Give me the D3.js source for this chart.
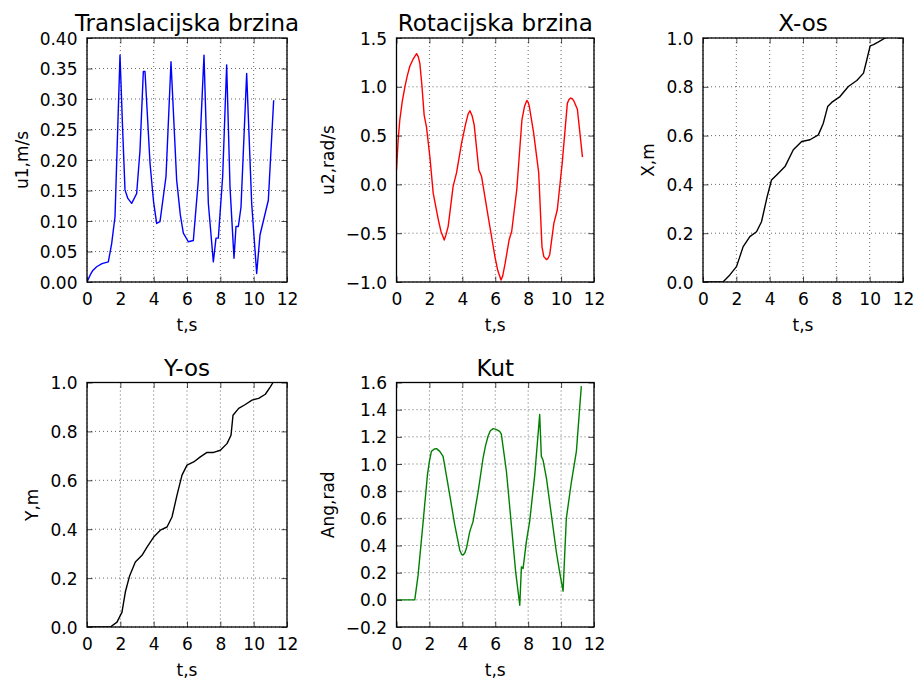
<!DOCTYPE html>
<html>
<head>
<meta charset="utf-8">
<script src="https://cdn.jsdelivr.net/npm/d3@7"></script>
<style>
  html, body { margin: 0; padding: 0; background: #fff; }
  svg { display: block; font-family: "DejaVu Sans", sans-serif; }
</style>
</head>
<body>
<svg id="chart" width="916" height="683"></svg>
<script>
// ---------- DATA ----------
const xTicks = [0, 2, 4, 6, 8, 10, 12];

// Translacijska brzina
const tU1 = [0, 0.2, 0.35, 0.58, 0.9, 1.28, 1.48, 1.68, 1.98, 2.14, 2.28, 2.45, 2.68, 2.98, 3.18, 3.38, 3.48, 3.78, 4.0, 4.18, 4.38, 4.74, 5.04, 5.38, 5.6, 5.78, 6.08, 6.38, 6.68, 7.02, 7.28, 7.58, 7.74, 7.88, 8.14, 8.38, 8.58, 8.82, 8.94, 9.08, 9.24, 9.58, 9.88, 10.18, 10.38, 10.88, 11.2];
const u1  = [0, 0.012, 0.019, 0.025, 0.030, 0.033, 0.063, 0.107, 0.372, 0.249, 0.151, 0.137, 0.129, 0.145, 0.216, 0.345, 0.345, 0.195, 0.130, 0.096, 0.099, 0.173, 0.361, 0.167, 0.110, 0.080, 0.066, 0.068, 0.167, 0.372, 0.129, 0.033, 0.072, 0.072, 0.173, 0.356, 0.156, 0.039, 0.091, 0.091, 0.123, 0.342, 0.129, 0.014, 0.077, 0.134, 0.298];
const yTicksU1 = [0, 0.05, 0.10, 0.15, 0.20, 0.25, 0.30, 0.35, 0.40];

// Rotacijska brzina
const tU2 = [0, 0.1, 0.2, 0.35, 0.51, 0.65, 0.81, 1.0, 1.22, 1.32, 1.42, 1.55, 1.68, 1.82, 2.03, 2.23, 2.54, 2.7, 2.9, 3.0, 3.14, 3.44, 3.65, 3.95, 4.2, 4.35, 4.46, 4.6, 4.72, 5.0, 5.17, 5.57, 5.98, 6.15, 6.35, 6.45, 6.6, 6.84, 7.0, 7.31, 7.62, 7.78, 7.92, 8.0, 8.07, 8.33, 8.64, 8.84, 8.95, 9.11, 9.2, 9.31, 9.56, 9.77, 10.07, 10.38, 10.48, 10.58, 10.7, 10.79, 10.99, 11.3];
const u2  = [0.15, 0.45, 0.66, 0.85, 1.00, 1.11, 1.21, 1.28, 1.34, 1.31, 1.24, 1.0, 0.71, 0.59, 0.28, -0.09, -0.36, -0.48, -0.57, -0.52, -0.43, -0.02, 0.12, 0.42, 0.62, 0.72, 0.755, 0.70, 0.61, 0.15, 0.08, -0.33, -0.74, -0.88, -0.98, -0.94, -0.81, -0.57, -0.48, -0.05, 0.66, 0.80, 0.86, 0.84, 0.80, 0.53, 0.12, -0.64, -0.74, -0.77, -0.76, -0.72, -0.40, -0.26, 0.22, 0.83, 0.87, 0.885, 0.875, 0.85, 0.77, 0.28];
const yTicksU2 = [-1.0, -0.5, 0.0, 0.5, 1.0, 1.5];

// X-os
const tX = [0, 1.2, 1.61, 2.01, 2.21, 2.41, 2.81, 3.21, 3.51, 3.85, 4.11, 4.42, 4.92, 5.42, 5.92, 6.42, 6.92, 7.22, 7.48, 7.72, 8.22, 8.72, 9.23, 9.63, 9.83, 10.03, 10.23, 10.53, 10.93, 11.25];
const xPos = [0, 0, 0.029, 0.063, 0.104, 0.145, 0.186, 0.206, 0.247, 0.35, 0.418, 0.439, 0.473, 0.542, 0.576, 0.583, 0.603, 0.651, 0.719, 0.736, 0.760, 0.801, 0.826, 0.856, 0.911, 0.968, 0.973, 0.984, 1.0, 1.01];
const yTicksX = [0.0, 0.2, 0.4, 0.6, 0.8, 1.0];

// Y-os
const tY = [0, 1.4, 1.8, 2.1, 2.3, 2.56, 2.9, 3.3, 3.6, 4.0, 4.4, 4.8, 5.1, 5.4, 5.7, 6.0, 6.4, 6.8, 7.2, 7.6, 8.0, 8.4, 8.64, 8.76, 9.1, 9.5, 9.9, 10.3, 10.7, 11.0, 11.16, 11.25];
const yPos = [0, 0, 0.02, 0.061, 0.143, 0.21, 0.266, 0.293, 0.327, 0.368, 0.396, 0.409, 0.45, 0.539, 0.621, 0.662, 0.675, 0.696, 0.714, 0.714, 0.723, 0.75, 0.784, 0.866, 0.894, 0.91, 0.928, 0.935, 0.952, 0.982, 1.0, 1.01];
const yTicksY = [0.0, 0.2, 0.4, 0.6, 0.8, 1.0];

// Kut
const tAng = [0, 1.11, 1.31, 1.62, 1.88, 2.0, 2.12, 2.3, 2.43, 2.63, 2.83, 3.13, 3.54, 3.84, 3.95, 4.04, 4.15, 4.25, 4.45, 4.65, 4.96, 5.26, 5.4, 5.56, 5.7, 5.87, 6.05, 6.27, 6.37, 6.68, 6.98, 7.24, 7.49, 7.59, 7.69, 7.89, 8.09, 8.4, 8.7, 8.8, 8.9, 9.11, 9.41, 9.71, 9.91, 10.12, 10.32, 10.63, 10.93, 11.23];
const ang  = [0, 0, 0.18, 0.576, 0.92, 1.02, 1.093, 1.11, 1.113, 1.093, 1.056, 0.847, 0.551, 0.367, 0.335, 0.33, 0.345, 0.379, 0.502, 0.576, 0.797, 1.044, 1.13, 1.204, 1.245, 1.26, 1.255, 1.24, 1.22, 0.945, 0.551, 0.206, -0.04, 0.243, 0.23, 0.428, 0.576, 0.92, 1.364, 1.056, 1.03, 0.896, 0.625, 0.354, 0.206, 0.064, 0.6, 0.871, 1.093, 1.573];
const yTicksAng = [-0.2, 0.0, 0.2, 0.4, 0.6, 0.8, 1.0, 1.2, 1.4, 1.6];

// ---------- PANELS ----------
const panels = [
  { title: "Translacijska brzina", ylabel: "u1,m/s", t: tU1, v: u1, yTicks: yTicksU1, fmt: ".2f", color: "#0000ff",
    box: { l: 87, r: 287, t: 38, b: 282 } },
  { title: "Rotacijska brzina", ylabel: "u2,rad/s", t: tU2, v: u2, yTicks: yTicksU2, fmt: ".1f", color: "#ff0000",
    box: { l: 396.5, r: 594, t: 38, b: 282 } },
  { title: "X-os", ylabel: "X,m", t: tX, v: xPos, yTicks: yTicksX, fmt: ".1f", color: "#000000",
    box: { l: 703, r: 903, t: 38, b: 282 } },
  { title: "Y-os", ylabel: "Y,m", t: tY, v: yPos, yTicks: yTicksY, fmt: ".1f", color: "#000000",
    box: { l: 87, r: 287, t: 382.5, b: 627 } },
  { title: "Kut", ylabel: "Ang,rad", t: tAng, v: ang, yTicks: yTicksAng, fmt: ".1f", color: "#008000",
    box: { l: 396.5, r: 594, t: 382.5, b: 627 } }
];

const svg = d3.select("#chart");
const FS = 17;

panels.forEach((p, i) => {
  const b = p.box;
  const x = d3.scaleLinear().domain([0, 12]).range([b.l, b.r]);
  const yMin = p.yTicks[0], yMax = p.yTicks[p.yTicks.length - 1];
  const y = d3.scaleLinear().domain([yMin, yMax]).range([b.b, b.t]);
  const g = svg.append("g");
  const fmt = d3.format(p.fmt);
  const lab = d => fmt(d).replace("-", "\u2212");

  // grid
  g.selectAll(".gx").data(xTicks).join("line")
    .attr("x1", d => x(d)).attr("x2", d => x(d)).attr("y1", b.t).attr("y2", b.b)
    .attr("stroke", "#000").attr("stroke-width", 0.6).attr("stroke-dasharray", "1,3");
  g.selectAll(".gy").data(p.yTicks).join("line")
    .attr("y1", d => y(d)).attr("y2", d => y(d)).attr("x1", b.l).attr("x2", b.r)
    .attr("stroke", "#000").attr("stroke-width", 0.6).attr("stroke-dasharray", "1,3");

  // data line (clipped)
  const cid = "clip" + i;
  svg.append("clipPath").attr("id", cid).append("rect")
    .attr("x", b.l).attr("y", b.t).attr("width", b.r - b.l).attr("height", b.b - b.t);
  const line = d3.line().x(d => x(d[0])).y(d => y(d[1]));
  g.append("path").datum(p.t.map((t, k) => [t, p.v[k]]))
    .attr("d", line).attr("fill", "none").attr("stroke", p.color)
    .attr("stroke-width", 1.4).attr("stroke-linejoin", "round")
    .attr("clip-path", `url(#${cid})`);

  // axes with inward ticks (all four sides)
  const TL = 5.5;
  const ax = g.append("g").attr("transform", `translate(0,${b.b})`)
    .call(d3.axisBottom(x).tickValues(xTicks).tickFormat(d3.format("d")).tickSizeInner(-TL).tickSizeOuter(0).tickPadding(TL + 6));
  const axT = g.append("g").attr("transform", `translate(0,${b.t})`)
    .call(d3.axisTop(x).tickValues(xTicks).tickFormat("").tickSizeInner(-TL).tickSizeOuter(0));
  const ay = g.append("g").attr("transform", `translate(${b.l},0)`)
    .call(d3.axisLeft(y).tickValues(p.yTicks).tickFormat(lab).tickSizeInner(-TL).tickSizeOuter(0).tickPadding(TL + 4));
  const ayR = g.append("g").attr("transform", `translate(${b.r},0)`)
    .call(d3.axisRight(y).tickValues(p.yTicks).tickFormat("").tickSizeInner(-TL).tickSizeOuter(0));
  [ax, axT, ay, ayR].forEach(a => {
    a.select(".domain").remove();
    a.selectAll(".tick line").attr("stroke", "#000").attr("stroke-width", 0.7);
    a.selectAll("text").attr("font-size", FS).attr("fill", "#000").attr("font-family", "DejaVu Sans");
  });
  ax.selectAll("text").attr("dy", null).attr("y", 23).attr("dominant-baseline", "auto");
  ay.selectAll("text").attr("dy", "0.36em");

  // frame
  g.append("rect").attr("x", b.l).attr("y", b.t).attr("width", b.r - b.l).attr("height", b.b - b.t)
    .attr("fill", "none").attr("stroke", "#000").attr("stroke-width", 1.3);

  // title
  g.append("text").attr("x", (b.l + b.r) / 2).attr("y", b.t - 7)
    .attr("text-anchor", "middle").attr("font-size", 23).attr("fill", "#000").text(p.title);

  // x label
  g.append("text").attr("x", (b.l + b.r) / 2).attr("y", b.b + 49)
    .attr("text-anchor", "middle").attr("font-size", FS).attr("fill", "#000").text("t,s");

  // y label
  let maxW = 0;
  ay.selectAll("text").each(function () { maxW = Math.max(maxW, this.getComputedTextLength()); });
  const lx = b.l - (TL + 4) - maxW - 12;
  g.append("text").attr("transform", `translate(${lx},${(b.t + b.b) / 2}) rotate(-90)`)
    .attr("text-anchor", "middle").attr("font-size", FS).attr("fill", "#000").text(p.ylabel);
});
</script>
</body>
</html>
